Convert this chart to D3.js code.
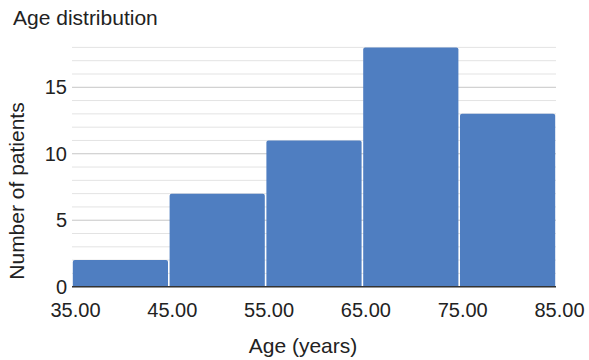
<!DOCTYPE html>
<html><head><meta charset="utf-8">
<script src="https://cdn.jsdelivr.net/npm/d3@7/dist/d3.min.js"></script>
<style>body{margin:0;background:#fff}text{font-family:"Liberation Sans",Arial,sans-serif;fill:#222}</style>
</head><body><svg id="c" width="589" height="360"></svg>
<script>
const binStarts = [35, 45, 55, 65, 75];
const binEnds = [45, 55, 65, 75, 85];
const counts = [2, 7, 11, 18, 13];
const xTicks = [35, 45, 55, 65, 75, 85];
const yTicks = [0, 5, 10, 15];
const yMinor = d3.range(0, 19);

const svg = d3.select("#c");
const x = d3.scaleLinear().domain([35, 85]).range([72, 556]);
const y = d3.scaleLinear().domain([0, 18]).range([286.7, 47.4]);

svg.append("g").selectAll("line").data(yMinor.filter(v => !yTicks.includes(v))).join("line")
  .attr("x1", x(35)).attr("x2", x(85)).attr("y1", d => y(d)).attr("y2", d => y(d))
  .attr("stroke", "#e3e3e3").attr("stroke-width", 1);
svg.append("g").selectAll("line").data(yTicks).join("line")
  .attr("x1", x(35)).attr("x2", x(85)).attr("y1", d => y(d)).attr("y2", d => y(d))
  .attr("stroke", "#c6c6c6").attr("stroke-width", 1);

const r = 2;
svg.append("g").selectAll("path").data(counts).join("path")
  .attr("d", (d, i) => {
    const x0 = x(binStarts[i]) + 0.8, x1 = x(binEnds[i]) - 0.8, y0 = y(0), y1 = y(d);
    return `M${x0},${y0}V${y1 + r}Q${x0},${y1} ${x0 + r},${y1}H${x1 - r}Q${x1},${y1} ${x1},${y1 + r}V${y0}Z`;
  })
  .attr("fill", "#4f7ec1");

svg.append("line").attr("x1", x(35)).attr("x2", x(85)).attr("y1", y(0)).attr("y2", y(0))
  .attr("stroke", "#333").attr("stroke-width", 1.5);

const yAxis = d3.axisLeft(y).tickValues(yTicks).tickSize(0).tickPadding(5);
const gy = svg.append("g").attr("transform", "translate(72,0)").call(yAxis);
gy.select(".domain").remove();
gy.selectAll("text").attr("font-size", 20).attr("font-family", "Liberation Sans").attr("fill", "#222");

const xAxis = d3.axisBottom(x).tickValues(xTicks).tickSize(0).tickPadding(16).tickFormat(d3.format(".2f"));
const gx = svg.append("g").attr("transform", "translate(0,286.7)").call(xAxis);
gx.select(".domain").remove();
gx.selectAll("text").attr("font-size", 20).attr("font-family", "Liberation Sans").attr("fill", "#222")
  .attr("dx", 3);

svg.append("text").attr("x", 13).attr("y", 25).attr("font-size", 21).text("Age distribution");
svg.append("text").attr("x", 303).attr("y", 353).attr("text-anchor", "middle").attr("font-size", 21).text("Age (years)");
svg.append("text").attr("transform", "translate(24,191) rotate(-90)").attr("text-anchor", "middle")
  .attr("font-size", 21).text("Number of patients");
</script></body></html>
